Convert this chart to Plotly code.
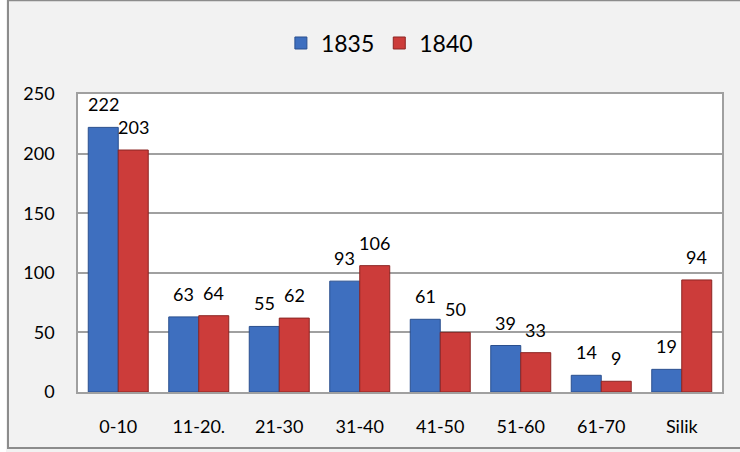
import plotly.graph_objects as go

categories = ["0-10", "11-20.", "21-30", "31-40", "41-50", "51-60", "61-70", "Silik"]
series_names = ["1835", "1840"]
values_1835 = [222, 63, 55, 93, 61, 39, 14, 19]
values_1840 = [203, 64, 62, 106, 50, 33, 9, 94]
y_ticks = [0, 50, 100, 150, 200, 250]

FONT = "Lato, Calibri, 'Liberation Sans', sans-serif"
colors = ["#3E6FBF", "#CC3C3A"]
edges = ["#2A4F8E", "#8C2523"]

fig = go.Figure()
for name, vals, c, e in zip(series_names, [values_1835, values_1840], colors, edges):
    fig.add_trace(go.Bar(
        x=categories, y=vals, name=name,
        marker=dict(color=c, line=dict(color=e, width=1)),
    ))

# data labels
annotations = []
for idx, vals in enumerate([values_1835, values_1840]):
    shift = -15 if idx == 0 else 15
    for cat, v in zip(categories, vals):
        annotations.append(dict(
            x=cat, y=v, xref="x", yref="y", text=str(v), showarrow=False,
            xshift=shift, yshift=10, yanchor="bottom",
            font=dict(family=FONT, size=18, color="#000000"),
        ))

fig.update_layout(
    width=740, height=452,
    margin=dict(l=78, r=18, t=94, b=60),
    paper_bgcolor="#F2F2F2",
    plot_bgcolor="#FFFFFF",
    barmode="group",
    bargap=0.255,
    bargroupgap=0,
    font=dict(family=FONT, size=18, color="#000000"),
    showlegend=True,
    legend=dict(
        orientation="h", x=0.468, xanchor="center", y=1.171, yanchor="middle",
        font=dict(family=FONT, size=23), bgcolor="rgba(0,0,0,0)",
        itemwidth=30, traceorder="normal",
    ),
    annotations=annotations,
    shapes=[
        dict(type="rect", xref="paper", yref="paper",
             x0=-0.1087, x1=1.2, y0=-0.188, y1=1.315,
             line=dict(color="#8C8C8C", width=2), fillcolor="rgba(0,0,0,0)", layer="below"),
        dict(type="rect", xref="paper", yref="paper",
             x0=-0.2, x1=-0.1118, y0=-0.3, y1=1.4,
             line=dict(width=0), fillcolor="#FFFFFF", layer="below"),
    ],
)

fig.update_xaxes(
    type="category", showline=True, mirror=True, linecolor="#A0A0A0", linewidth=1.5,
    ticks="outside", ticklen=18, tickcolor="rgba(0,0,0,0)",
    tickfont=dict(family=FONT, size=18), showgrid=False,
)
fig.update_yaxes(
    range=[0, 250], tickvals=y_ticks, ticktext=[str(t) for t in y_ticks],
    showline=True, mirror=True, linecolor="#A0A0A0", linewidth=1.5,
    showgrid=True, gridcolor="#A0A0A0", gridwidth=1.5, zeroline=False,
    ticks="outside", ticklen=18, tickcolor="rgba(0,0,0,0)",
    tickfont=dict(family=FONT, size=18),
)

fig.write_html("out.html", config={"displayModeBar": False},
               post_script="document.body.style.margin='0';document.body.style.overflow='hidden';")
